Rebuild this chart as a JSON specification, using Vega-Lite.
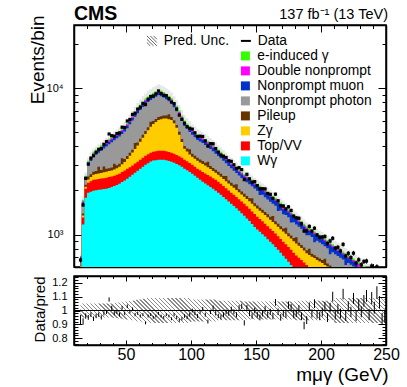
{
"$schema": "https://vega.github.io/schema/vega-lite/v6.json",
"background": "white",
"padding": {"left": 27, "top": 3, "right": 0, "bottom": 0},
"spacing": 5,
"config": {
  "font": "Liberation Sans",
  "view": {"stroke": "black", "strokeWidth": 1.5},
  "axis": {"domain": false, "grid": false, "tickColor": "black", "tickWidth": 1, "labelColor": "black", "titleColor": "black", "labelFont": "Liberation Sans", "titleFont": "Liberation Sans", "titleFontWeight": "normal", "labelFlush": false, "labelOverlap": false, "zindex": 1, "domainColor": "black", "domainWidth": 1.5},
  "legend": {"labelFont": "Liberation Sans", "labelFontSize": 13.8, "labelColor": "black", "padding": 0, "rowPadding": 0, "labelOffset": 5, "titlePadding": 0}
},
"datasets": {"h": [
{"m":15,"wg":560,"tv":40,"zg":10,"pu":5,"np":70,"nm":20,"dn":8,"eg":7,"d":670,"u":0.05},
{"m":17,"wg":1170,"tv":136,"zg":42,"pu":42,"np":184,"nm":78,"dn":39,"eg":39,"d":1592,"u":0.05},
{"m":19,"wg":1786,"tv":271,"zg":65,"pu":67,"np":190,"nm":62,"dn":40,"eg":41,"d":2421,"u":0.05},
{"m":21,"wg":1932,"tv":327,"zg":120,"pu":110,"np":470,"nm":100,"dn":64,"eg":65,"d":3029,"u":0.05},
{"m":23,"wg":1962,"tv":348,"zg":160,"pu":115,"np":595,"nm":105,"dn":71,"eg":72,"d":3327,"u":0.05},
{"m":25,"wg":1993,"tv":370,"zg":200,"pu":120,"np":720,"nm":110,"dn":78,"eg":80,"d":3451,"u":0.05},
{"m":27,"wg":2006,"tv":374,"zg":208,"pu":123,"np":800,"nm":124,"dn":83,"eg":85,"d":3651,"u":0.05},
{"m":29,"wg":2019,"tv":378,"zg":216,"pu":290,"np":715,"nm":139,"dn":88,"eg":90,"d":3817,"u":0.05},
{"m":31,"wg":2031,"tv":381,"zg":224,"pu":127,"np":973,"nm":149,"dn":93,"eg":95,"d":3869,"u":0.05},
{"m":33,"wg":2044,"tv":384,"zg":233,"pu":250,"np":958,"nm":154,"dn":96,"eg":98,"d":4133,"u":0.05},
{"m":35,"wg":2057,"tv":386,"zg":242,"pu":129,"np":1187,"nm":160,"dn":99,"eg":101,"d":4317,"u":0.05},
{"m":37,"wg":2083,"tv":384,"zg":244,"pu":130,"np":1292,"nm":165,"dn":102,"eg":104,"d":4863,"u":0.05},
{"m":39,"wg":2109,"tv":381,"zg":245,"pu":131,"np":1397,"nm":170,"dn":106,"eg":108,"d":4738,"u":0.05},
{"m":41,"wg":2142,"tv":380,"zg":257,"pu":260,"np":1360,"nm":175,"dn":109,"eg":111,"d":4697,"u":0.055},
{"m":43,"wg":2183,"tv":379,"zg":279,"pu":136,"np":1562,"nm":180,"dn":113,"eg":115,"d":4897,"u":0.055},
{"m":45,"wg":2224,"tv":378,"zg":301,"pu":139,"np":1638,"nm":186,"dn":116,"eg":118,"d":4947,"u":0.06},
{"m":47,"wg":2282,"tv":388,"zg":348,"pu":300,"np":1547,"nm":194,"dn":120,"eg":123,"d":5407,"u":0.06},
{"m":49,"wg":2339,"tv":397,"zg":395,"pu":151,"np":1766,"nm":202,"dn":125,"eg":128,"d":5392,"u":0.065},
{"m":51,"wg":2407,"tv":402,"zg":467,"pu":158,"np":1880,"nm":213,"dn":131,"eg":134,"d":5967,"u":0.065},
{"m":53,"wg":2484,"tv":401,"zg":566,"pu":166,"np":2045,"nm":227,"dn":140,"eg":143,"d":6111,"u":0.07},
{"m":55,"wg":2562,"tv":400,"zg":665,"pu":174,"np":2210,"nm":241,"dn":149,"eg":152,"d":6619,"u":0.07},
{"m":57,"wg":2645,"tv":407,"zg":788,"pu":380,"np":2154,"nm":255,"dn":158,"eg":161,"d":6741,"u":0.075},
{"m":59,"wg":2728,"tv":414,"zg":911,"pu":195,"np":2490,"nm":269,"dn":167,"eg":170,"d":7198,"u":0.08},
{"m":61,"wg":2815,"tv":425,"zg":1062,"pu":207,"np":2586,"nm":283,"dn":175,"eg":178,"d":7422,"u":0.08},
{"m":63,"wg":2905,"tv":439,"zg":1240,"pu":220,"np":2635,"nm":297,"dn":184,"eg":187,"d":7865,"u":0.085},
{"m":65,"wg":2995,"tv":453,"zg":1418,"pu":234,"np":2684,"nm":311,"dn":193,"eg":196,"d":7720,"u":0.085},
{"m":67,"wg":3072,"tv":465,"zg":1624,"pu":248,"np":2629,"nm":321,"dn":199,"eg":203,"d":8410,"u":0.09},
{"m":69,"wg":3149,"tv":477,"zg":1829,"pu":450,"np":2386,"nm":331,"dn":205,"eg":210,"d":8766,"u":0.09},
{"m":71,"wg":3198,"tv":484,"zg":2012,"pu":273,"np":2559,"nm":340,"dn":211,"eg":216,"d":8828,"u":0.09},
{"m":73,"wg":3219,"tv":487,"zg":2171,"pu":282,"np":2586,"nm":349,"dn":216,"eg":221,"d":9149,"u":0.09},
{"m":75,"wg":3239,"tv":490,"zg":2330,"pu":291,"np":2612,"nm":358,"dn":221,"eg":226,"d":9572,"u":0.09},
{"m":77,"wg":3239,"tv":490,"zg":2407,"pu":295,"np":2366,"nm":351,"dn":218,"eg":222,"d":9204,"u":0.09},
{"m":79,"wg":3239,"tv":490,"zg":2484,"pu":299,"np":2121,"nm":344,"dn":215,"eg":218,"d":8940,"u":0.09},
{"m":81,"wg":3219,"tv":487,"zg":2507,"pu":299,"np":1897,"nm":335,"dn":209,"eg":213,"d":8891,"u":0.09},
{"m":83,"wg":3179,"tv":481,"zg":2476,"pu":500,"np":1491,"nm":324,"dn":202,"eg":206,"d":8505,"u":0.09},
{"m":85,"wg":3139,"tv":475,"zg":2445,"pu":291,"np":1495,"nm":313,"dn":194,"eg":199,"d":8038,"u":0.09},
{"m":87,"wg":3091,"tv":468,"zg":2197,"pu":276,"np":1382,"nm":296,"dn":183,"eg":188,"d":7838,"u":0.09},
{"m":89,"wg":3031,"tv":459,"zg":1863,"pu":258,"np":1344,"nm":278,"dn":172,"eg":176,"d":7199,"u":0.09},
{"m":91,"wg":2972,"tv":450,"zg":1379,"pu":231,"np":1425,"nm":258,"dn":159,"eg":164,"d":6543,"u":0.09},
{"m":93,"wg":2904,"tv":439,"zg":939,"pu":206,"np":1486,"nm":239,"dn":147,"eg":152,"d":6120,"u":0.09},
{"m":95,"wg":2814,"tv":425,"zg":608,"pu":185,"np":1484,"nm":220,"dn":136,"eg":139,"d":5771,"u":0.09},
{"m":97,"wg":2746,"tv":415,"zg":527,"pu":177,"np":1406,"nm":210,"dn":130,"eg":133,"d":5458,"u":0.09},
{"m":99,"wg":2677,"tv":404,"zg":446,"pu":300,"np":1199,"nm":201,"dn":124,"eg":128,"d":5315,"u":0.09},
{"m":101,"wg":2603,"tv":393,"zg":400,"pu":164,"np":1250,"nm":199,"dn":119,"eg":123,"d":5250,"u":0.08},
{"m":103,"wg":2523,"tv":382,"zg":387,"pu":159,"np":1169,"nm":206,"dn":114,"eg":118,"d":4957,"u":0.08},
{"m":105,"wg":2443,"tv":371,"zg":374,"pu":154,"np":1088,"nm":213,"dn":110,"eg":113,"d":4671,"u":0.08},
{"m":107,"wg":2369,"tv":376,"zg":365,"pu":150,"np":1062,"nm":208,"dn":107,"eg":111,"d":4701,"u":0.08},
{"m":109,"wg":2296,"tv":381,"zg":356,"pu":146,"np":1035,"nm":203,"dn":104,"eg":108,"d":4676,"u":0.08},
{"m":111,"wg":2229,"tv":383,"zg":344,"pu":142,"np":997,"nm":200,"dn":102,"eg":105,"d":4367,"u":0.08},
{"m":113,"wg":2170,"tv":380,"zg":328,"pu":260,"np":826,"nm":199,"dn":99,"eg":102,"d":4014,"u":0.08},
{"m":115,"wg":2111,"tv":377,"zg":312,"pu":135,"np":899,"nm":199,"dn":96,"eg":99,"d":4183,"u":0.08},
{"m":117,"wg":2051,"tv":374,"zg":295,"pu":131,"np":850,"nm":198,"dn":93,"eg":95,"d":4168,"u":0.08},
{"m":119,"wg":1992,"tv":371,"zg":279,"pu":127,"np":800,"nm":197,"dn":90,"eg":92,"d":3868,"u":0.08},
{"m":121,"wg":1931,"tv":363,"zg":267,"pu":123,"np":757,"nm":193,"dn":86,"eg":88,"d":3657,"u":0.07},
{"m":123,"wg":1869,"tv":351,"zg":258,"pu":119,"np":719,"nm":186,"dn":83,"eg":85,"d":3487,"u":0.07},
{"m":125,"wg":1807,"tv":340,"zg":249,"pu":116,"np":681,"nm":179,"dn":80,"eg":82,"d":3427,"u":0.07},
{"m":127,"wg":1745,"tv":328,"zg":240,"pu":200,"np":555,"nm":172,"dn":77,"eg":79,"d":3361,"u":0.07},
{"m":129,"wg":1683,"tv":316,"zg":231,"pu":108,"np":605,"nm":165,"dn":74,"eg":76,"d":3192,"u":0.07},
{"m":131,"wg":1624,"tv":307,"zg":223,"pu":104,"np":573,"nm":159,"dn":71,"eg":73,"d":3165,"u":0.07},
{"m":133,"wg":1567,"tv":302,"zg":216,"pu":101,"np":546,"nm":153,"dn":68,"eg":70,"d":2995,"u":0.07},
{"m":135,"wg":1511,"tv":297,"zg":209,"pu":190,"np":428,"nm":149,"dn":66,"eg":68,"d":2829,"u":0.07},
{"m":137,"wg":1454,"tv":291,"zg":202,"pu":94,"np":494,"nm":143,"dn":63,"eg":65,"d":2862,"u":0.07},
{"m":139,"wg":1397,"tv":286,"zg":195,"pu":91,"np":467,"nm":139,"dn":60,"eg":63,"d":2778,"u":0.07},
{"m":141,"wg":1342,"tv":280,"zg":190,"pu":87,"np":451,"nm":135,"dn":58,"eg":61,"d":2371,"u":0.065},
{"m":143,"wg":1288,"tv":273,"zg":188,"pu":84,"np":445,"nm":134,"dn":57,"eg":59,"d":2579,"u":0.065},
{"m":145,"wg":1235,"tv":266,"zg":186,"pu":81,"np":439,"nm":133,"dn":55,"eg":58,"d":2402,"u":0.065},
{"m":147,"wg":1181,"tv":258,"zg":183,"pu":150,"np":361,"nm":132,"dn":54,"eg":56,"d":2279,"u":0.065},
{"m":149,"wg":1127,"tv":252,"zg":181,"pu":74,"np":427,"nm":131,"dn":52,"eg":54,"d":2298,"u":0.065},
{"m":151,"wg":1081,"tv":244,"zg":179,"pu":72,"np":417,"nm":131,"dn":50,"eg":52,"d":2159,"u":0.065},
{"m":153,"wg":1043,"tv":235,"zg":177,"pu":70,"np":337,"nm":200,"dn":49,"eg":51,"d":2053,"u":0.065},
{"m":155,"wg":1006,"tv":227,"zg":175,"pu":68,"np":390,"nm":135,"dn":48,"eg":49,"d":2054,"u":0.065},
{"m":157,"wg":968,"tv":219,"zg":172,"pu":65,"np":376,"nm":136,"dn":46,"eg":48,"d":2050,"u":0.065},
{"m":159,"wg":930,"tv":210,"zg":170,"pu":63,"np":363,"nm":138,"dn":45,"eg":46,"d":1906,"u":0.065},
{"m":161,"wg":893,"tv":203,"zg":168,"pu":61,"np":352,"nm":137,"dn":43,"eg":44,"d":1882,"u":0.065},
{"m":163,"wg":857,"tv":198,"zg":165,"pu":120,"np":284,"nm":132,"dn":42,"eg":43,"d":1766,"u":0.065},
{"m":165,"wg":822,"tv":193,"zg":162,"pu":57,"np":337,"nm":128,"dn":40,"eg":42,"d":1886,"u":0.065},
{"m":167,"wg":786,"tv":187,"zg":159,"pu":54,"np":263,"nm":190,"dn":38,"eg":40,"d":1701,"u":0.065},
{"m":169,"wg":750,"tv":182,"zg":156,"pu":52,"np":322,"nm":119,"dn":37,"eg":39,"d":1574,"u":0.065},
{"m":171,"wg":716,"tv":177,"zg":155,"pu":50,"np":278,"nm":115,"dn":70,"eg":37,"d":1566,"u":0.065},
{"m":173,"wg":683,"tv":174,"zg":154,"pu":100,"np":251,"nm":111,"dn":34,"eg":36,"d":1497,"u":0.065},
{"m":175,"wg":651,"tv":171,"zg":153,"pu":47,"np":291,"nm":107,"dn":33,"eg":35,"d":1546,"u":0.065},
{"m":177,"wg":619,"tv":167,"zg":152,"pu":46,"np":222,"nm":160,"dn":32,"eg":34,"d":1460,"u":0.065},
{"m":179,"wg":586,"tv":164,"zg":151,"pu":44,"np":268,"nm":99,"dn":31,"eg":33,"d":1335,"u":0.065},
{"m":181,"wg":559,"tv":161,"zg":149,"pu":90,"np":212,"nm":94,"dn":30,"eg":31,"d":1299,"u":0.07},
{"m":183,"wg":536,"tv":158,"zg":143,"pu":41,"np":254,"nm":87,"dn":29,"eg":30,"d":1292,"u":0.07},
{"m":185,"wg":514,"tv":156,"zg":139,"pu":39,"np":249,"nm":81,"dn":28,"eg":29,"d":1184,"u":0.07},
{"m":187,"wg":491,"tv":153,"zg":133,"pu":37,"np":243,"nm":74,"dn":26,"eg":28,"d":1056,"u":0.07},
{"m":189,"wg":468,"tv":150,"zg":128,"pu":36,"np":207,"nm":68,"dn":55,"eg":27,"d":1060,"u":0.07},
{"m":191,"wg":451,"tv":148,"zg":125,"pu":75,"np":190,"nm":66,"dn":25,"eg":26,"d":1137,"u":0.07},
{"m":193,"wg":440,"tv":145,"zg":121,"pu":34,"np":222,"nm":67,"dn":24,"eg":25,"d":1055,"u":0.07},
{"m":195,"wg":429,"tv":142,"zg":119,"pu":33,"np":161,"nm":120,"dn":24,"eg":24,"d":1104,"u":0.07},
{"m":197,"wg":417,"tv":139,"zg":115,"pu":32,"np":205,"nm":69,"dn":23,"eg":23,"d":994,"u":0.07},
{"m":199,"wg":406,"tv":136,"zg":113,"pu":31,"np":196,"nm":70,"dn":23,"eg":22,"d":958,"u":0.07},
{"m":201,"wg":395,"tv":133,"zg":110,"pu":31,"np":188,"nm":70,"dn":23,"eg":22,"d":961,"u":0.07},
{"m":203,"wg":385,"tv":129,"zg":106,"pu":62,"np":149,"nm":68,"dn":22,"eg":21,"d":970,"u":0.07},
{"m":205,"wg":375,"tv":125,"zg":104,"pu":29,"np":174,"nm":66,"dn":21,"eg":21,"d":868,"u":0.07},
{"m":207,"wg":365,"tv":121,"zg":100,"pu":28,"np":120,"nm":110,"dn":20,"eg":21,"d":904,"u":0.07},
{"m":209,"wg":355,"tv":117,"zg":98,"pu":27,"np":159,"nm":62,"dn":19,"eg":20,"d":943,"u":0.07},
{"m":211,"wg":346,"tv":113,"zg":95,"pu":27,"np":153,"nm":60,"dn":19,"eg":20,"d":807,"u":0.09},
{"m":213,"wg":338,"tv":109,"zg":92,"pu":55,"np":120,"nm":58,"dn":18,"eg":19,"d":818,"u":0.09},
{"m":215,"wg":330,"tv":105,"zg":90,"pu":25,"np":145,"nm":57,"dn":18,"eg":19,"d":772,"u":0.09},
{"m":217,"wg":322,"tv":100,"zg":88,"pu":24,"np":141,"nm":55,"dn":18,"eg":18,"d":857,"u":0.09},
{"m":219,"wg":314,"tv":96,"zg":85,"pu":23,"np":100,"nm":90,"dn":17,"eg":17,"d":713,"u":0.09},
{"m":221,"wg":306,"tv":93,"zg":83,"pu":23,"np":133,"nm":51,"dn":17,"eg":17,"d":744,"u":0.09},
{"m":223,"wg":297,"tv":91,"zg":81,"pu":22,"np":130,"nm":50,"dn":16,"eg":16,"d":696,"u":0.09},
{"m":225,"wg":288,"tv":90,"zg":79,"pu":45,"np":103,"nm":49,"dn":16,"eg":16,"d":746,"u":0.09},
{"m":227,"wg":279,"tv":88,"zg":77,"pu":21,"np":122,"nm":47,"dn":15,"eg":15,"d":638,"u":0.09},
{"m":229,"wg":270,"tv":86,"zg":75,"pu":20,"np":99,"nm":46,"dn":35,"eg":15,"d":672,"u":0.09},
{"m":231,"wg":262,"tv":84,"zg":73,"pu":20,"np":79,"nm":80,"dn":15,"eg":15,"d":622,"u":0.09},
{"m":233,"wg":255,"tv":82,"zg":71,"pu":19,"np":112,"nm":43,"dn":14,"eg":15,"d":654,"u":0.09},
{"m":235,"wg":248,"tv":80,"zg":69,"pu":19,"np":109,"nm":42,"dn":14,"eg":15,"d":659,"u":0.09},
{"m":237,"wg":240,"tv":77,"zg":67,"pu":18,"np":106,"nm":41,"dn":14,"eg":14,"d":560,"u":0.09},
{"m":239,"wg":233,"tv":75,"zg":65,"pu":17,"np":103,"nm":40,"dn":13,"eg":14,"d":610,"u":0.09},
{"m":241,"wg":226,"tv":73,"zg":63,"pu":17,"np":100,"nm":38,"dn":13,"eg":13,"d":554,"u":0.09},
{"m":243,"wg":222,"tv":72,"zg":62,"pu":16,"np":98,"nm":37,"dn":13,"eg":13,"d":602,"u":0.09},
{"m":245,"wg":218,"tv":70,"zg":61,"pu":16,"np":96,"nm":37,"dn":12,"eg":13,"d":554,"u":0.09},
{"m":247,"wg":214,"tv":69,"zg":60,"pu":16,"np":94,"nm":36,"dn":12,"eg":12,"d":482,"u":0.09},
{"m":249,"wg":210,"tv":68,"zg":59,"pu":15,"np":92,"nm":35,"dn":12,"eg":12,"d":483,"u":0.09}
]},
"vconcat": [
{
  "width": 312, "height": 242,
  "data": {"name": "h"},
  "transform": [
    {"calculate": "datum.wg", "as": "Wγ"},
    {"calculate": "datum['Wγ'] + datum.tv", "as": "Top/VV"},
    {"calculate": "datum['Top/VV'] + datum.zg", "as": "Zγ"},
    {"calculate": "datum['Zγ'] + datum.pu", "as": "Pileup"},
    {"calculate": "datum['Pileup'] + datum.np", "as": "Nonprompt photon"},
    {"calculate": "datum['Nonprompt photon'] + datum.nm", "as": "Nonprompt muon"},
    {"calculate": "datum['Nonprompt muon'] + datum.dn", "as": "Double nonprompt"},
    {"calculate": "datum['Double nonprompt'] + datum.eg", "as": "e-induced γ"},
    {"calculate": "datum['e-induced γ'] * (1 - datum.u)", "as": "ulo"},
    {"calculate": "datum['e-induced γ'] * (1 + datum.u)", "as": "uhi"},
    {"calculate": "datum.d - sqrt(datum.d)", "as": "dlo"},
    {"calculate": "datum.d + sqrt(datum.d)", "as": "dhi"}
  ],
  "layer": [
    {
      "mark": {"type": "area", "interpolate": "step", "clip": true, "opacity": 0.5, "fill": "#cfcfcf"},
      "encoding": {
        "x": {"field": "m", "type": "quantitative", "scale": {"domain": [10, 250], "nice": false, "zero": false},
              "axis": {"orient": "bottom", "values": [50, 100, 150, 200, 250], "tickSize": -7, "labels": false, "title": null, "domain": true}},
        "y": {"field": "ulo", "type": "quantitative", "scale": {"type": "log", "domain": [600, 27000], "nice": false},
              "axis": {"orient": "left", "values": [1000, 10000], "tickSize": -8, "labelExpr": "datum.value == 1000 ? '10³' : '10⁴'", "labelFontSize": 11, "labelPadding": 19, "domain": true,
                       "title": "Events/bin", "titleFontSize": 19, "titleAngle": 270, "titleX": -31, "titleY": -10, "titleAlign": "right", "titleBaseline": "alphabetic"}},
        "y2": {"field": "uhi"}
      }
    },
    {
      "transform": [{"fold": ["e-induced γ", "Double nonprompt", "Nonprompt muon", "Nonprompt photon", "Pileup", "Zγ", "Top/VV", "Wγ"], "as": ["proc", "cum"]}],
      "mark": {"type": "area", "interpolate": "step", "clip": true, "opacity": 1},
      "encoding": {
        "x": {"field": "m", "type": "quantitative", "axis": {"orient": "bottom", "values": [10,20,30,40,60,70,80,90,110,120,130,140,160,170,180,190,210,220,230,240], "tickSize": -3.5, "labels": false, "title": null}},
        "y": {"field": "cum", "type": "quantitative", "stack": null, "axis": {"orient": "left", "values": [700,800,900,2000,3000,4000,5000,6000,7000,8000,9000,20000], "tickSize": -4, "labels": false, "title": null}},
        "color": {"field": "proc", "type": "nominal",
                  "scale": {"domain": ["e-induced γ", "Double nonprompt", "Nonprompt muon", "Nonprompt photon", "Pileup", "Zγ", "Top/VV", "Wγ"],
                            "range": ["#33ff00", "#ff00ff", "#0033cc", "#999999", "#663300", "#ffcc00", "#ff0000", "#00ffff"]},
                  "legend": {"orient": "none", "legendX": 164.5, "legendY": 24, "title": null, "symbolType": "square", "symbolSize": 81, "symbolStrokeWidth": 0}}
      }
    },
    {
      "mark": {"type": "point", "shape": "square", "filled": true, "size": 10, "color": "black", "opacity": 1, "clip": true},
      "encoding": {
        "x": {"field": "m", "type": "quantitative", "axis": {"orient": "top", "values": [50, 100, 150, 200, 250], "tickSize": -7, "labels": false, "title": null, "domain": true}},
        "y": {"field": "d", "type": "quantitative", "axis": {"orient": "right", "values": [1000, 10000], "tickSize": -8, "labels": false, "title": null, "domain": true}}
      }
    },
    {
      "mark": {"type": "rule", "clip": true, "strokeWidth": 1},
      "encoding": {
        "x": {"field": "m", "type": "quantitative", "axis": {"orient": "top", "values": [10,20,30,40,60,70,80,90,110,120,130,140,160,170,180,190,210,220,230,240], "tickSize": -3.5, "labels": false, "title": null}},
        "y": {"field": "dlo", "type": "quantitative", "axis": {"orient": "right", "values": [700,800,900,2000,3000,4000,5000,6000,7000,8000,9000,20000], "tickSize": -4, "labels": false, "title": null}},
        "y2": {"field": "dhi"},
        "stroke": {"datum": "Data", "scale": {"range": ["black"]},
                   "legend": {"orient": "none", "legendX": 165, "legendY": 9, "title": null, "symbolType": "stroke", "symbolSize": 100, "symbolStrokeWidth": 2}}
      }
    },
    {
      "transform": [{"filter": "false"}],
      "mark": {"type": "point", "filled": false, "color": "#666666", "strokeWidth": 1, "opacity": 1},
      "encoding": {
        "x": {"field": "m", "type": "quantitative", "axis": null},
        "y": {"field": "d", "type": "quantitative", "axis": null},
        "shape": {"datum": "Pred. Unc.", "scale": {"range": ["M-1,-1L1,1M-0.33,-1L1,0.33M0.33,-1L1,-0.33M-1,-0.33L0.33,1M-1,0.33L-0.33,1"]},
                  "legend": {"orient": "none", "legendX": 71, "legendY": 9, "title": null, "symbolSize": 100, "symbolStrokeWidth": 1, "symbolStrokeColor": "#666666", "symbolFillColor": "transparent"}}
      }
    },
    {
      "data": {"values": [{}]},
      "mark": {"type": "text", "text": "CMS", "align": "left", "baseline": "alphabetic", "fontSize": 19.5, "fontWeight": "bold", "font": "Liberation Sans", "color": "black"},
      "encoding": {
        "x": {"datum": 10, "type": "quantitative", "axis": null},
        "y": {"datum": 29200, "type": "quantitative", "axis": null}
      }
    },
    {
      "data": {"values": [{}]},
      "mark": {"type": "text", "text": "137 fb⁻¹ (13 TeV)", "align": "right", "baseline": "alphabetic", "fontSize": 14.5, "font": "Liberation Sans", "color": "black", "dx": 2},
      "encoding": {
        "x": {"datum": 250, "type": "quantitative", "axis": null},
        "y": {"datum": 29900, "type": "quantitative", "axis": null}
      }
    }
  ],
  "resolve": {"axis": {"x": "independent", "y": "independent"}}
},
{
  "width": 312, "height": 69,
  "data": {"name": "h"},
  "transform": [
    {"calculate": "datum.wg + datum.tv + datum.zg + datum.pu + datum.np + datum.nm + datum.dn + datum.eg", "as": "tot"},
    {"calculate": "datum.d / datum.tot", "as": "r"},
    {"calculate": "sqrt(datum.d) / datum.tot", "as": "e"},
    {"calculate": "datum.r - datum.e", "as": "rlo"},
    {"calculate": "datum.r + datum.e", "as": "rhi"},
    {"calculate": "1 - datum.u", "as": "blo"},
    {"calculate": "1 + datum.u", "as": "bhi"}
  ],
  "layer": [
    {
      "mark": {"type": "area", "interpolate": "step", "clip": true,
               "fill": {"gradient": "linear", "x1": 0, "y1": 1, "x2": 1.0745, "y2": 0.9123, "stops": [
{"offset":0,"color":"#8a8a8a"},{"offset":0.0044,"color":"#8a8a8a"},{"offset":0.0044,"color":"#fff"},
{"offset":0.0125,"color":"#fff"},{"offset":0.0125,"color":"#8a8a8a"},{"offset":0.0169,"color":"#8a8a8a"},{"offset":0.0169,"color":"#fff"},
{"offset":0.025,"color":"#fff"},{"offset":0.025,"color":"#8a8a8a"},{"offset":0.0294,"color":"#8a8a8a"},{"offset":0.0294,"color":"#fff"},
{"offset":0.0375,"color":"#fff"},{"offset":0.0375,"color":"#8a8a8a"},{"offset":0.0419,"color":"#8a8a8a"},{"offset":0.0419,"color":"#fff"},
{"offset":0.05,"color":"#fff"},{"offset":0.05,"color":"#8a8a8a"},{"offset":0.0544,"color":"#8a8a8a"},{"offset":0.0544,"color":"#fff"},
{"offset":0.0625,"color":"#fff"},{"offset":0.0625,"color":"#8a8a8a"},{"offset":0.0669,"color":"#8a8a8a"},{"offset":0.0669,"color":"#fff"},
{"offset":0.075,"color":"#fff"},{"offset":0.075,"color":"#8a8a8a"},{"offset":0.0794,"color":"#8a8a8a"},{"offset":0.0794,"color":"#fff"},
{"offset":0.0875,"color":"#fff"},{"offset":0.0875,"color":"#8a8a8a"},{"offset":0.0919,"color":"#8a8a8a"},{"offset":0.0919,"color":"#fff"},
{"offset":0.1,"color":"#fff"},{"offset":0.1,"color":"#8a8a8a"},{"offset":0.1044,"color":"#8a8a8a"},{"offset":0.1044,"color":"#fff"},
{"offset":0.1125,"color":"#fff"},{"offset":0.1125,"color":"#8a8a8a"},{"offset":0.1169,"color":"#8a8a8a"},{"offset":0.1169,"color":"#fff"},
{"offset":0.125,"color":"#fff"},{"offset":0.125,"color":"#8a8a8a"},{"offset":0.1294,"color":"#8a8a8a"},{"offset":0.1294,"color":"#fff"},
{"offset":0.1375,"color":"#fff"},{"offset":0.1375,"color":"#8a8a8a"},{"offset":0.1419,"color":"#8a8a8a"},{"offset":0.1419,"color":"#fff"},
{"offset":0.15,"color":"#fff"},{"offset":0.15,"color":"#8a8a8a"},{"offset":0.1544,"color":"#8a8a8a"},{"offset":0.1544,"color":"#fff"},
{"offset":0.1625,"color":"#fff"},{"offset":0.1625,"color":"#8a8a8a"},{"offset":0.1669,"color":"#8a8a8a"},{"offset":0.1669,"color":"#fff"},
{"offset":0.175,"color":"#fff"},{"offset":0.175,"color":"#8a8a8a"},{"offset":0.1794,"color":"#8a8a8a"},{"offset":0.1794,"color":"#fff"},
{"offset":0.1875,"color":"#fff"},{"offset":0.1875,"color":"#8a8a8a"},{"offset":0.1919,"color":"#8a8a8a"},{"offset":0.1919,"color":"#fff"},
{"offset":0.2,"color":"#fff"},{"offset":0.2,"color":"#8a8a8a"},{"offset":0.2044,"color":"#8a8a8a"},{"offset":0.2044,"color":"#fff"},
{"offset":0.2125,"color":"#fff"},{"offset":0.2125,"color":"#8a8a8a"},{"offset":0.2169,"color":"#8a8a8a"},{"offset":0.2169,"color":"#fff"},
{"offset":0.225,"color":"#fff"},{"offset":0.225,"color":"#8a8a8a"},{"offset":0.2294,"color":"#8a8a8a"},{"offset":0.2294,"color":"#fff"},
{"offset":0.2375,"color":"#fff"},{"offset":0.2375,"color":"#8a8a8a"},{"offset":0.2419,"color":"#8a8a8a"},{"offset":0.2419,"color":"#fff"},
{"offset":0.25,"color":"#fff"},{"offset":0.25,"color":"#8a8a8a"},{"offset":0.2544,"color":"#8a8a8a"},{"offset":0.2544,"color":"#fff"},
{"offset":0.2625,"color":"#fff"},{"offset":0.2625,"color":"#8a8a8a"},{"offset":0.2669,"color":"#8a8a8a"},{"offset":0.2669,"color":"#fff"},
{"offset":0.275,"color":"#fff"},{"offset":0.275,"color":"#8a8a8a"},{"offset":0.2794,"color":"#8a8a8a"},{"offset":0.2794,"color":"#fff"},
{"offset":0.2875,"color":"#fff"},{"offset":0.2875,"color":"#8a8a8a"},{"offset":0.2919,"color":"#8a8a8a"},{"offset":0.2919,"color":"#fff"},
{"offset":0.3,"color":"#fff"},{"offset":0.3,"color":"#8a8a8a"},{"offset":0.3044,"color":"#8a8a8a"},{"offset":0.3044,"color":"#fff"},
{"offset":0.3125,"color":"#fff"},{"offset":0.3125,"color":"#8a8a8a"},{"offset":0.3169,"color":"#8a8a8a"},{"offset":0.3169,"color":"#fff"},
{"offset":0.325,"color":"#fff"},{"offset":0.325,"color":"#8a8a8a"},{"offset":0.3294,"color":"#8a8a8a"},{"offset":0.3294,"color":"#fff"},
{"offset":0.3375,"color":"#fff"},{"offset":0.3375,"color":"#8a8a8a"},{"offset":0.3419,"color":"#8a8a8a"},{"offset":0.3419,"color":"#fff"},
{"offset":0.35,"color":"#fff"},{"offset":0.35,"color":"#8a8a8a"},{"offset":0.3544,"color":"#8a8a8a"},{"offset":0.3544,"color":"#fff"},
{"offset":0.3625,"color":"#fff"},{"offset":0.3625,"color":"#8a8a8a"},{"offset":0.3669,"color":"#8a8a8a"},{"offset":0.3669,"color":"#fff"},
{"offset":0.375,"color":"#fff"},{"offset":0.375,"color":"#8a8a8a"},{"offset":0.3794,"color":"#8a8a8a"},{"offset":0.3794,"color":"#fff"},
{"offset":0.3875,"color":"#fff"},{"offset":0.3875,"color":"#8a8a8a"},{"offset":0.3919,"color":"#8a8a8a"},{"offset":0.3919,"color":"#fff"},
{"offset":0.4,"color":"#fff"},{"offset":0.4,"color":"#8a8a8a"},{"offset":0.4044,"color":"#8a8a8a"},{"offset":0.4044,"color":"#fff"},
{"offset":0.4125,"color":"#fff"},{"offset":0.4125,"color":"#8a8a8a"},{"offset":0.4169,"color":"#8a8a8a"},{"offset":0.4169,"color":"#fff"},
{"offset":0.425,"color":"#fff"},{"offset":0.425,"color":"#8a8a8a"},{"offset":0.4294,"color":"#8a8a8a"},{"offset":0.4294,"color":"#fff"},
{"offset":0.4375,"color":"#fff"},{"offset":0.4375,"color":"#8a8a8a"},{"offset":0.4419,"color":"#8a8a8a"},{"offset":0.4419,"color":"#fff"},
{"offset":0.45,"color":"#fff"},{"offset":0.45,"color":"#8a8a8a"},{"offset":0.4544,"color":"#8a8a8a"},{"offset":0.4544,"color":"#fff"},
{"offset":0.4625,"color":"#fff"},{"offset":0.4625,"color":"#8a8a8a"},{"offset":0.4669,"color":"#8a8a8a"},{"offset":0.4669,"color":"#fff"},
{"offset":0.475,"color":"#fff"},{"offset":0.475,"color":"#8a8a8a"},{"offset":0.4794,"color":"#8a8a8a"},{"offset":0.4794,"color":"#fff"},
{"offset":0.4875,"color":"#fff"},{"offset":0.4875,"color":"#8a8a8a"},{"offset":0.4919,"color":"#8a8a8a"},{"offset":0.4919,"color":"#fff"},
{"offset":0.5,"color":"#fff"},{"offset":0.5,"color":"#8a8a8a"},{"offset":0.5044,"color":"#8a8a8a"},{"offset":0.5044,"color":"#fff"},
{"offset":0.5125,"color":"#fff"},{"offset":0.5125,"color":"#8a8a8a"},{"offset":0.5169,"color":"#8a8a8a"},{"offset":0.5169,"color":"#fff"},
{"offset":0.525,"color":"#fff"},{"offset":0.525,"color":"#8a8a8a"},{"offset":0.5294,"color":"#8a8a8a"},{"offset":0.5294,"color":"#fff"},
{"offset":0.5375,"color":"#fff"},{"offset":0.5375,"color":"#8a8a8a"},{"offset":0.5419,"color":"#8a8a8a"},{"offset":0.5419,"color":"#fff"},
{"offset":0.55,"color":"#fff"},{"offset":0.55,"color":"#8a8a8a"},{"offset":0.5544,"color":"#8a8a8a"},{"offset":0.5544,"color":"#fff"},
{"offset":0.5625,"color":"#fff"},{"offset":0.5625,"color":"#8a8a8a"},{"offset":0.5669,"color":"#8a8a8a"},{"offset":0.5669,"color":"#fff"},
{"offset":0.575,"color":"#fff"},{"offset":0.575,"color":"#8a8a8a"},{"offset":0.5794,"color":"#8a8a8a"},{"offset":0.5794,"color":"#fff"},
{"offset":0.5875,"color":"#fff"},{"offset":0.5875,"color":"#8a8a8a"},{"offset":0.5919,"color":"#8a8a8a"},{"offset":0.5919,"color":"#fff"},
{"offset":0.6,"color":"#fff"},{"offset":0.6,"color":"#8a8a8a"},{"offset":0.6044,"color":"#8a8a8a"},{"offset":0.6044,"color":"#fff"},
{"offset":0.6125,"color":"#fff"},{"offset":0.6125,"color":"#8a8a8a"},{"offset":0.6169,"color":"#8a8a8a"},{"offset":0.6169,"color":"#fff"},
{"offset":0.625,"color":"#fff"},{"offset":0.625,"color":"#8a8a8a"},{"offset":0.6294,"color":"#8a8a8a"},{"offset":0.6294,"color":"#fff"},
{"offset":0.6375,"color":"#fff"},{"offset":0.6375,"color":"#8a8a8a"},{"offset":0.6419,"color":"#8a8a8a"},{"offset":0.6419,"color":"#fff"},
{"offset":0.65,"color":"#fff"},{"offset":0.65,"color":"#8a8a8a"},{"offset":0.6544,"color":"#8a8a8a"},{"offset":0.6544,"color":"#fff"},
{"offset":0.6625,"color":"#fff"},{"offset":0.6625,"color":"#8a8a8a"},{"offset":0.6669,"color":"#8a8a8a"},{"offset":0.6669,"color":"#fff"},
{"offset":0.675,"color":"#fff"},{"offset":0.675,"color":"#8a8a8a"},{"offset":0.6794,"color":"#8a8a8a"},{"offset":0.6794,"color":"#fff"},
{"offset":0.6875,"color":"#fff"},{"offset":0.6875,"color":"#8a8a8a"},{"offset":0.6919,"color":"#8a8a8a"},{"offset":0.6919,"color":"#fff"},
{"offset":0.7,"color":"#fff"},{"offset":0.7,"color":"#8a8a8a"},{"offset":0.7044,"color":"#8a8a8a"},{"offset":0.7044,"color":"#fff"},
{"offset":0.7125,"color":"#fff"},{"offset":0.7125,"color":"#8a8a8a"},{"offset":0.7169,"color":"#8a8a8a"},{"offset":0.7169,"color":"#fff"},
{"offset":0.725,"color":"#fff"},{"offset":0.725,"color":"#8a8a8a"},{"offset":0.7294,"color":"#8a8a8a"},{"offset":0.7294,"color":"#fff"},
{"offset":0.7375,"color":"#fff"},{"offset":0.7375,"color":"#8a8a8a"},{"offset":0.7419,"color":"#8a8a8a"},{"offset":0.7419,"color":"#fff"},
{"offset":0.75,"color":"#fff"},{"offset":0.75,"color":"#8a8a8a"},{"offset":0.7544,"color":"#8a8a8a"},{"offset":0.7544,"color":"#fff"},
{"offset":0.7625,"color":"#fff"},{"offset":0.7625,"color":"#8a8a8a"},{"offset":0.7669,"color":"#8a8a8a"},{"offset":0.7669,"color":"#fff"},
{"offset":0.775,"color":"#fff"},{"offset":0.775,"color":"#8a8a8a"},{"offset":0.7794,"color":"#8a8a8a"},{"offset":0.7794,"color":"#fff"},
{"offset":0.7875,"color":"#fff"},{"offset":0.7875,"color":"#8a8a8a"},{"offset":0.7919,"color":"#8a8a8a"},{"offset":0.7919,"color":"#fff"},
{"offset":0.8,"color":"#fff"},{"offset":0.8,"color":"#8a8a8a"},{"offset":0.8044,"color":"#8a8a8a"},{"offset":0.8044,"color":"#fff"},
{"offset":0.8125,"color":"#fff"},{"offset":0.8125,"color":"#8a8a8a"},{"offset":0.8169,"color":"#8a8a8a"},{"offset":0.8169,"color":"#fff"},
{"offset":0.825,"color":"#fff"},{"offset":0.825,"color":"#8a8a8a"},{"offset":0.8294,"color":"#8a8a8a"},{"offset":0.8294,"color":"#fff"},
{"offset":0.8375,"color":"#fff"},{"offset":0.8375,"color":"#8a8a8a"},{"offset":0.8419,"color":"#8a8a8a"},{"offset":0.8419,"color":"#fff"},
{"offset":0.85,"color":"#fff"},{"offset":0.85,"color":"#8a8a8a"},{"offset":0.8544,"color":"#8a8a8a"},{"offset":0.8544,"color":"#fff"},
{"offset":0.8625,"color":"#fff"},{"offset":0.8625,"color":"#8a8a8a"},{"offset":0.8669,"color":"#8a8a8a"},{"offset":0.8669,"color":"#fff"},
{"offset":0.875,"color":"#fff"},{"offset":0.875,"color":"#8a8a8a"},{"offset":0.8794,"color":"#8a8a8a"},{"offset":0.8794,"color":"#fff"},
{"offset":0.8875,"color":"#fff"},{"offset":0.8875,"color":"#8a8a8a"},{"offset":0.8919,"color":"#8a8a8a"},{"offset":0.8919,"color":"#fff"},
{"offset":0.9,"color":"#fff"},{"offset":0.9,"color":"#8a8a8a"},{"offset":0.9044,"color":"#8a8a8a"},{"offset":0.9044,"color":"#fff"},
{"offset":0.9125,"color":"#fff"},{"offset":0.9125,"color":"#8a8a8a"},{"offset":0.9169,"color":"#8a8a8a"},{"offset":0.9169,"color":"#fff"},
{"offset":0.925,"color":"#fff"},{"offset":0.925,"color":"#8a8a8a"},{"offset":0.9294,"color":"#8a8a8a"},{"offset":0.9294,"color":"#fff"},
{"offset":0.9375,"color":"#fff"},{"offset":0.9375,"color":"#8a8a8a"},{"offset":0.9419,"color":"#8a8a8a"},{"offset":0.9419,"color":"#fff"},
{"offset":0.95,"color":"#fff"},{"offset":0.95,"color":"#8a8a8a"},{"offset":0.9544,"color":"#8a8a8a"},{"offset":0.9544,"color":"#fff"},
{"offset":0.9625,"color":"#fff"},{"offset":0.9625,"color":"#8a8a8a"},{"offset":0.9669,"color":"#8a8a8a"},{"offset":0.9669,"color":"#fff"},
{"offset":0.975,"color":"#fff"},{"offset":0.975,"color":"#8a8a8a"},{"offset":0.9794,"color":"#8a8a8a"},{"offset":0.9794,"color":"#fff"},
{"offset":0.9875,"color":"#fff"},{"offset":0.9875,"color":"#8a8a8a"},{"offset":0.9919,"color":"#8a8a8a"},{"offset":0.9919,"color":"#fff"},
{"offset":1,"color":"#fff"}
               ]}},
      "encoding": {
        "x": {"field": "m", "type": "quantitative", "scale": {"domain": [10, 250], "nice": false, "zero": false},
              "axis": {"orient": "bottom", "values": [50, 100, 150, 200, 250], "tickSize": -5, "labelFontSize": 16, "labelPadding": 6, "domain": true,
                       "title": "mμγ (GeV)", "titleFontSize": 19, "titleX": 314, "titleY": 35, "titleAlign": "right", "titleBaseline": "alphabetic"}},
        "y": {"field": "blo", "type": "quantitative", "scale": {"domain": [0.75, 1.25], "nice": false, "zero": false},
              "axis": {"orient": "left", "values": [0.8, 0.9, 1, 1.1, 1.2], "format": ".1~f", "tickSize": -8, "labelFontSize": 11, "labelPadding": 15, "domain": true,
                       "title": "Data/pred", "titleFontSize": 15, "titleAngle": 270, "titleX": -30, "titleY": 0, "titleAlign": "right", "titleBaseline": "alphabetic"}},
        "y2": {"field": "bhi"}
      }
    },
    {
      "data": {"values": [{}]},
      "mark": {"type": "rule", "color": "black", "strokeWidth": 1},
      "encoding": {"y": {"datum": 1, "type": "quantitative", "axis": null}}
    },
    {
      "mark": {"type": "rule", "color": "black", "strokeWidth": 1, "clip": true},
      "encoding": {
        "x": {"field": "m", "type": "quantitative", "axis": {"orient": "bottom", "values": [10,20,30,40,60,70,80,90,110,120,130,140,160,170,180,190,210,220,230,240], "tickSize": -2.5, "labels": false, "title": null}},
        "y": {"field": "rlo", "type": "quantitative", "axis": {"orient": "left", "values": [0.76,0.78,0.82,0.84,0.86,0.88,0.92,0.94,0.96,0.98,1.02,1.04,1.06,1.08,1.12,1.14,1.16,1.18,1.22,1.24], "tickSize": -4, "labels": false, "title": null}},
        "y2": {"field": "rhi"}
      }
    },
    {
      "mark": {"type": "point", "opacity": 0},
      "encoding": {
        "x": {"field": "m", "type": "quantitative", "axis": {"orient": "top", "values": [50, 100, 150, 200, 250], "tickSize": -5, "labels": false, "title": null, "domain": true}},
        "y": {"field": "r", "type": "quantitative", "axis": {"orient": "right", "values": [0.8, 0.9, 1, 1.1, 1.2], "tickSize": -8, "labels": false, "title": null, "domain": true}}
      }
    },
    {
      "mark": {"type": "point", "opacity": 0},
      "encoding": {
        "x": {"field": "m", "type": "quantitative", "axis": {"orient": "top", "values": [10,20,30,40,60,70,80,90,110,120,130,140,160,170,180,190,210,220,230,240], "tickSize": -2.5, "labels": false, "title": null}},
        "y": {"field": "r", "type": "quantitative", "axis": {"orient": "right", "values": [0.76,0.78,0.82,0.84,0.86,0.88,0.92,0.94,0.96,0.98,1.02,1.04,1.06,1.08,1.12,1.14,1.16,1.18,1.22,1.24], "tickSize": -4, "labels": false, "title": null}}
      }
    }
  ],
  "resolve": {"axis": {"x": "independent", "y": "independent"}}
}
]
}
